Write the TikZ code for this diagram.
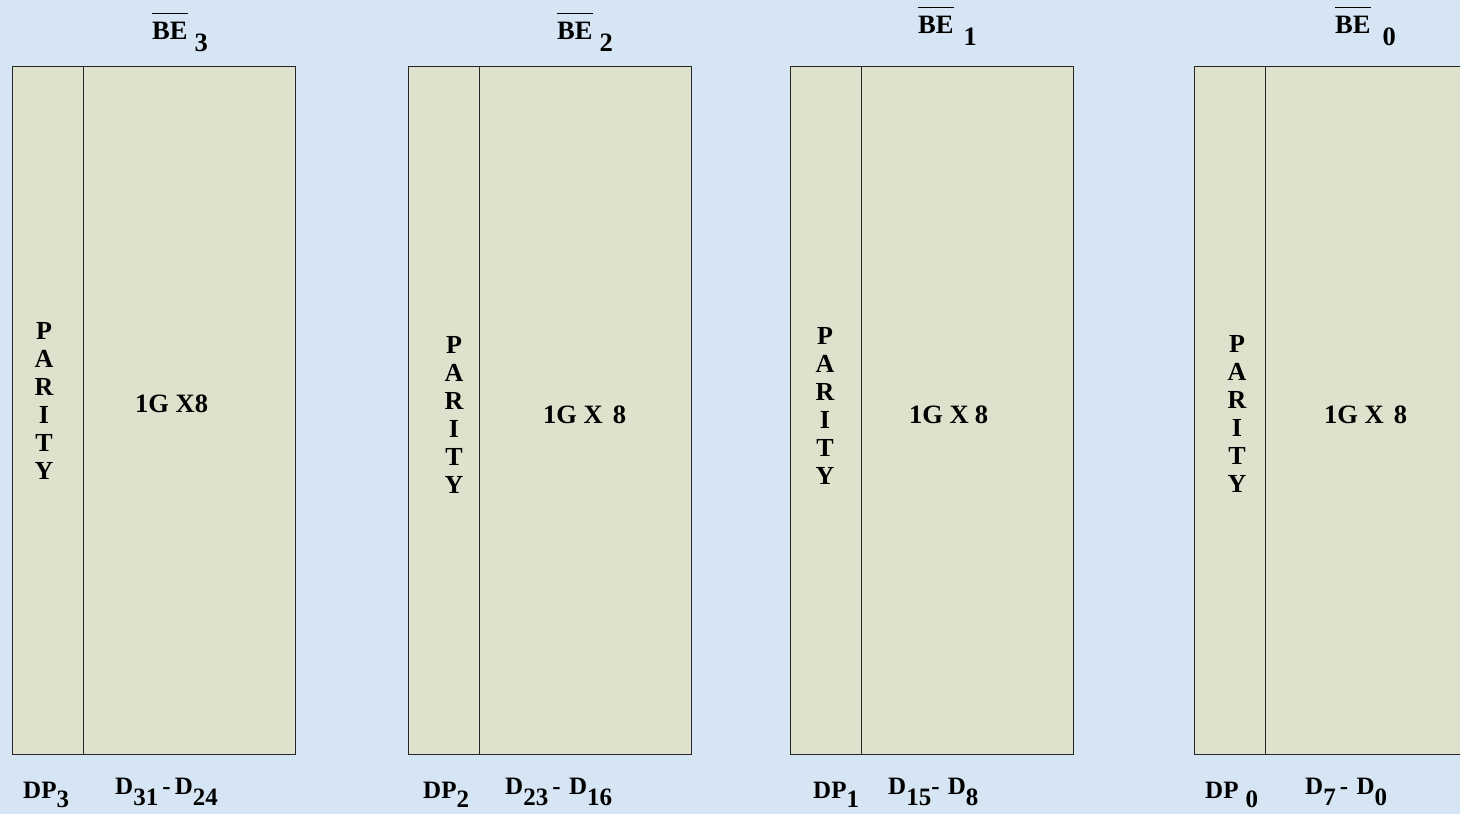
\documentclass[tikz,border=0pt]{standalone}
\usepackage{fontspec}
\setmainfont{Liberation Serif}
\begin{document}
\begin{tikzpicture}[x=1pt,y=-1pt,
  cell/.style={draw=black!85,line width=1.2pt,fill=memfill,inner sep=0pt,minimum height=688pt,anchor=north west},
  par/.style={cell,minimum width=71pt},
  mem/.style={cell,minimum width=212pt},
  lbl/.style={inner sep=0pt,anchor=base west,font=\fontsize{26.5}{28}\selectfont\bfseries},
  blbl/.style={inner sep=0pt,anchor=base west,font=\fontsize{25}{28}\selectfont\bfseries},
  vtxt/.style={inner sep=0pt,anchor=north,align=center,font=\fontsize{26}{28}\selectfont\bfseries}]
\definecolor{bg}{HTML}{D5E5F4}
\definecolor{memfill}{HTML}{DEE1CB}
\newcommand{\ovl}[1]{\setbox0\hbox{#1}\rlap{\raisebox{\dimexpr\ht0+8pt\relax}{\rule{\wd0}{1pt}}}\box0}
\newcommand{\lowr}[2]{\raisebox{-#1}{#2}}
\fill[bg] (0,0) rectangle (1460,814);
\useasboundingbox (0,0) rectangle (1460,814);
% box 3
\node[par] (p3) at (12,66) {};
\node[mem] (m3) at (83,66) {};
\node[vtxt] (t3) at (44,322) {P\\A\\R\\I\\T\\Y};
\node[lbl] (g3) at (135,412) {1G X8};
\node[lbl] (be3) at (152,39) {\ovl{BE}\hspace{7pt}\lowr{12pt}{3}};
\node[blbl] (dp3) at (23,798) {DP\lowr{9pt}{3}};
\node[blbl] (d3) at (115,794) {D\lowr{11pt}{31}\,-\,D\lowr{11pt}{24}};
% box 2
\node[par] (p2) at (408,66) {};
\node[mem] (m2) at (479,66) {};
\node[vtxt] (t2) at (454,336) {P\\A\\R\\I\\T\\Y};
\node[lbl] (g2) at (543,423) {1G X\hspace{10pt}8};
\node[lbl] (be2) at (557,39) {\ovl{BE}\hspace{7pt}\lowr{12pt}{2}};
\node[blbl] (dp2) at (423,798) {DP\lowr{9pt}{2}};
\node[blbl] (d2) at (505,794) {D\lowr{11pt}{23}\,-\,\,D\lowr{11pt}{16}};
% box 1
\node[par] (p1) at (790,66) {};
\node[mem] (m1) at (861,66) {};
\node[vtxt] (t1) at (825,327) {P\\A\\R\\I\\T\\Y};
\node[lbl] (g1) at (909,423) {1G X\hspace{6pt}8};
\node[lbl] (be1) at (918,33) {\ovl{BE}\hspace{10pt}\lowr{12pt}{1}};
\node[blbl] (dp1) at (813,798) {DP\lowr{9pt}{1}};
\node[blbl] (d1) at (888,794) {D\lowr{11pt}{15}-\,\,D\lowr{11pt}{8}};
% box 0
\node[par] (p0) at (1194,66) {};
\node[mem] (m0) at (1265,66) {};
\node[vtxt] (t0) at (1237,335) {P\\A\\R\\I\\T\\Y};
\node[lbl] (g0) at (1324,423) {1G X\hspace{10pt}8};
\node[lbl] (be0) at (1335,33) {\ovl{BE}\hspace{12pt}\lowr{12pt}{0}};
\node[blbl] (dp0) at (1205,798) {DP\hspace{7pt}\lowr{9pt}{0}};
\node[blbl] (d0) at (1305,794) {D\lowr{11pt}{7}\,-\,\,D\lowr{11pt}{0}};
\end{tikzpicture}
\end{document}
